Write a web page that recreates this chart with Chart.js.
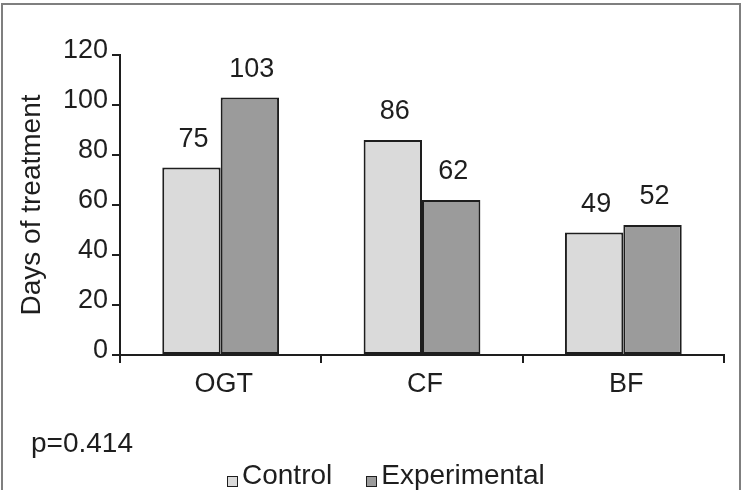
<!DOCTYPE html>
<html>
<head>
<meta charset="utf-8">
<script src="https://cdn.jsdelivr.net/npm/chart.js@4/dist/chart.umd.min.js"></script>
<style>
  html, body { margin: 0; padding: 0; background: #ffffff; }
  body { width: 743px; height: 490px; position: relative; overflow: hidden; font-family: "Liberation Sans", Arial, sans-serif; }
  #frame { position: absolute; left: 1px; top: 3px; width: 736px; height: 600px; border: 2px solid #7f7f7f; border-bottom: none; }
  #chart { position: absolute; left: 0; top: 0; }
  #pval { position: absolute; left: 31px; top: 429px; font-size: 28px; line-height: 28px; color: #1e1e1e; white-space: nowrap; }
  #legend { position: absolute; left: 227px; top: 461px; font-size: 28px; line-height: 28px; color: #1e1e1e; white-space: nowrap; display: flex; }
  .item { display: flex; align-items: flex-start; }
  .box { width: 9px; height: 9px; border: 1.5px solid #1e1e1e; margin-top: 15px; margin-right: 4px; }
  .item + .item { margin-left: 34px; }
</style>
</head>
<body>
<div id="frame"></div>
<canvas id="chart" width="743" height="490"></canvas>
<div id="pval">p=0.414</div>
<div id="legend"></div>
<script>
const categories = ["OGT", "CF", "BF"];
const controlValues = [75, 86, 49];
const experimentalValues = [103, 62, 52];
const seriesNames = ["Control", "Experimental"];
const yTicks = [0, 20, 40, 60, 80, 100, 120];
const pValueText = "p=0.414";
const yAxisTitle = "Days of treatment";

const fillColors = ["#dadada", "#9b9b9b"];
const inkColor = "#1e1e1e";
const fontFamily = "'Liberation Sans', Arial, sans-serif";

const valueLabels = {
  id: "valueLabels",
  afterDatasetsDraw(chart) {
    const ctx = chart.ctx;
    ctx.save();
    ctx.font = "27px " + fontFamily;
    ctx.fillStyle = inkColor;
    ctx.textAlign = "center";
    ctx.textBaseline = "middle";
    chart.data.datasets.forEach((ds, di) => {
      const meta = chart.getDatasetMeta(di);
      meta.data.forEach((bar, i) => {
        ctx.fillText(String(ds.data[i]), bar.x + 2, bar.y - 28);
      });
    });
    ctx.restore();
  }
};

const chart = new Chart(document.getElementById("chart"), {
  type: "bar",
  data: {
    labels: categories,
    datasets: [
      { label: seriesNames[0], data: controlValues, backgroundColor: fillColors[0], borderColor: inkColor, borderWidth: 2, borderSkipped: false, categoryPercentage: 0.58, barPercentage: 1.0 },
      { label: seriesNames[1], data: experimentalValues, backgroundColor: fillColors[1], borderColor: inkColor, borderWidth: 2, borderSkipped: false, categoryPercentage: 0.58, barPercentage: 1.0 }
    ]
  },
  options: {
    responsive: false,
    animation: false,
    devicePixelRatio: 1,
    layout: { padding: { left: 11, top: 55, right: 19, bottom: 0 } },
    plugins: {
      legend: { display: false },
      tooltip: { enabled: false },
      title: { display: false }
    },
    scales: {
      x: {
        type: "category",
        offset: true,
        grid: { offset: true, drawOnChartArea: false, drawTicks: true, tickLength: 8, color: inkColor, lineWidth: 2 },
        border: { display: true, color: inkColor, width: 2 },
        ticks: { color: inkColor, font: { family: fontFamily, size: 27 }, padding: 5, labelOffset: 3 },
        afterFit(scale) { scale.height = 135; }
      },
      y: {
        min: 0,
        max: 120,
        afterBuildTicks(scale) { scale.ticks = yTicks.map(v => ({ value: v })); },
        grid: { drawOnChartArea: false, drawTicks: true, tickLength: 8, color: inkColor, lineWidth: 2 },
        border: { display: true, color: inkColor, width: 2 },
        ticks: { color: inkColor, font: { family: fontFamily, size: 27 }, padding: 4, labelOffset: -4 },
        title: { display: true, text: yAxisTitle, color: inkColor, font: { family: fontFamily, size: 28 }, padding: { top: 4, bottom: 0 } },
        afterFit(scale) { scale.width = 109; }
      }
    }
  },
  plugins: [valueLabels]
});

document.getElementById("pval").textContent = pValueText;
const legendEl = document.getElementById("legend");
chart.data.datasets.forEach(ds => {
  const item = document.createElement("div");
  item.className = "item";
  const box = document.createElement("div");
  box.className = "box";
  box.style.background = ds.backgroundColor;
  const txt = document.createElement("span");
  txt.textContent = ds.label;
  item.appendChild(box);
  item.appendChild(txt);
  legendEl.appendChild(item);
});
</script>
</body>
</html>
